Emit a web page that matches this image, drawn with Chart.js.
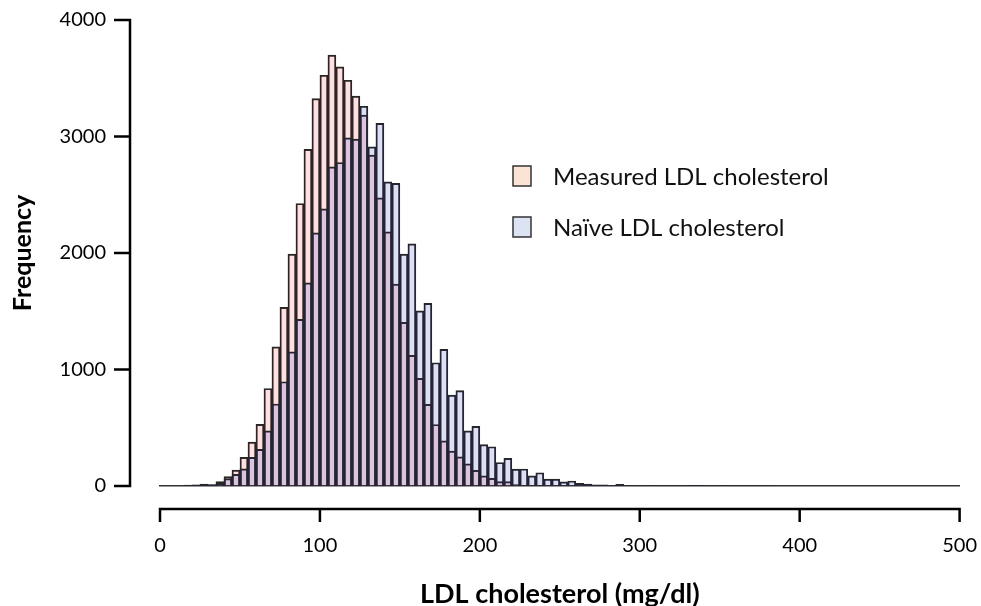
<!DOCTYPE html>
<html><head><meta charset="utf-8">
<script src="https://cdn.jsdelivr.net/npm/chart.js@4.4.1/dist/chart.umd.min.js"></script>
<style>html,body{margin:0;padding:0;background:#fff}#wrap{width:981px;height:606px}</style>
</head><body><div id="wrap"><canvas id="c" width="981" height="606"></canvas></div>
<script>
// Lower edge of each 5 mg/dl bin
const binStart = [15,20,25,30,35,40,45,50,55,60,65,70,75,80,85,90,95,100,105,110,
  115,120,125,130,135,140,145,150,155,160,165,170,175,180,185,190,195,200,205,210,
  215,220,225,230,235,240,245,250,255,260,265,270,275,280,285,290,295,300,305,310,
  315,320,325,330,335,340,345,350,355,360,365,370,375,380];
const measured = [8,10,17,12,37,80,137,246,377,530,837,1195,1533,1990,2425,2889,3326,3526,3698,3598,
  3483,3346,3183,2840,2474,2182,1733,1405,1122,924,700,528,388,300,250,190,135,88,66,37,
  37,12,6,4,3,2,2,1,0,0,0,0,0,0,0,0,0,0,0,0,
  0,0,0,0,0,0,0,0,0,0,0,0,0,0];
const naive = [5,8,12,10,22,63,100,148,246,315,473,704,895,1152,1430,1744,2173,2379,2740,2777,
  2988,2977,3260,2911,3112,2611,2597,1990,2079,1504,1567,1058,1173,781,818,474,512,355,337,202,
  238,145,146,88,114,60,60,35,43,23,17,9,9,3,15,3,2,2,3,2,
  2,1,1,5,5,1,1,4,1,1,1,1,1,1];
const xTicks = [0,100,200,300,400,500];
const yTicks = [0,1000,2000,3000,4000];
const seriesNames = ['Measured LDL cholesterol','Naïve LDL cholesterol'];
const xTitle = 'LDL cholesterol (mg/dl)';
const yTitle = 'Frequency';
const BIN = 5;

const FONT = 'Lato, "Open Sans", sans-serif';
const legendFill = ['#fbe4d6','#dce4f3'];

const toPts = vals => vals.map((v,i)=>({x: binStart[i] + BIN/2, y: v}));

const offsetAxes = {
  id: 'offsetAxes',
  afterDraw(chart) {
    const {ctx, scales:{x, y}} = chart;
    ctx.save();
    ctx.strokeStyle = '#000';
    ctx.lineWidth = 2.5;
    // y axis, offset left of the plot
    const ax = x.getPixelForValue(0) - 30;
    ctx.beginPath();
    ctx.moveTo(ax, y.getPixelForValue(yTicks[yTicks.length-1]) - 1.25);
    ctx.lineTo(ax, y.getPixelForValue(0) + 1.25);
    yTicks.forEach(v => { const py = y.getPixelForValue(v); ctx.moveTo(ax - 16, py); ctx.lineTo(ax, py); });
    ctx.stroke();
    // x axis, offset below the plot
    const ay = y.getPixelForValue(0) + 23;
    ctx.beginPath();
    ctx.moveTo(x.getPixelForValue(xTicks[0]) - 1.25, ay);
    ctx.lineTo(x.getPixelForValue(xTicks[xTicks.length-1]) + 1.25, ay);
    xTicks.forEach(v => { const px = x.getPixelForValue(v); ctx.moveTo(px, ay - 1); ctx.lineTo(px, ay + 13); });
    ctx.stroke();
    // legend
    ctx.lineWidth = 1.5;
    ctx.strokeStyle = '#333';
    ctx.font = '24px ' + FONT;
    ctx.textBaseline = 'middle';
    ctx.textAlign = 'left';
    const lx = 513, ly = [176, 227];
    seriesNames.forEach((name, i) => {
      ctx.fillStyle = legendFill[i];
      ctx.fillRect(lx, ly[i] - 10, 18, 20);
      ctx.strokeRect(lx, ly[i] - 10, 18, 20);
      ctx.fillStyle = '#111';
      ctx.fillText(name, lx + 40, ly[i] + 1);
    });
    ctx.restore();
  }
};

new Chart(document.getElementById('c'), {
  type: 'bar',
  data: {
    datasets: [
      { label: seriesNames[0], data: toPts(measured), order: 2,
        backgroundColor: 'rgba(232,44,60,0.15)', borderColor: '#262626', borderWidth: 1.3 },
      { label: seriesNames[1], data: toPts(naive), order: 1,
        backgroundColor: 'rgba(30,40,205,0.15)', borderColor: '#262626', borderWidth: 1.3 }
    ]
  },
  options: {
    responsive: false,
    animation: false,
    devicePixelRatio: 1,
    layout: { padding: { top: 20, right: 20, left: 0, bottom: 0 } },
    datasets: { bar: { grouped: false, barPercentage: 1, categoryPercentage: 1 } },
    plugins: { legend: { display: false }, tooltip: { enabled: false } },
    scales: {
      x: {
        type: 'linear', min: 0, max: 500, offset: false,
        afterFit: s => { s.height = 120; },
        afterBuildTicks: s => { s.ticks = xTicks.map(v => ({value: v})); },
        grid: { display: false, drawTicks: true, tickLength: 44 },
        border: { display: true, color: '#333', width: 1.5 },
        ticks: { padding: 4, color: '#000', font: { family: FONT, size: 20 },
          callback: v => String(v) },
        title: { display: true, text: xTitle, color: '#000', padding: { top: 0, bottom: 0 },
          font: { family: FONT, size: 27, weight: 'bold', lineHeight: 0.85 } }
      },
      y: {
        min: 0, max: 4000,
        afterFit: s => { s.width = 160; },
        afterBuildTicks: s => { s.ticks = yTicks.map(v => ({value: v})); },
        grid: { display: false, drawTicks: true, tickLength: 48 },
        border: { display: false },
        ticks: { padding: 6, color: '#000', font: { family: FONT, size: 20 },
          callback: v => String(v) },
        title: { display: true, text: yTitle, color: '#000', padding: { top: 8, bottom: 0 },
          font: { family: FONT, size: 25, weight: 'bold' } }
      }
    }
  },
  plugins: [offsetAxes]
});
</script>
</body></html>
